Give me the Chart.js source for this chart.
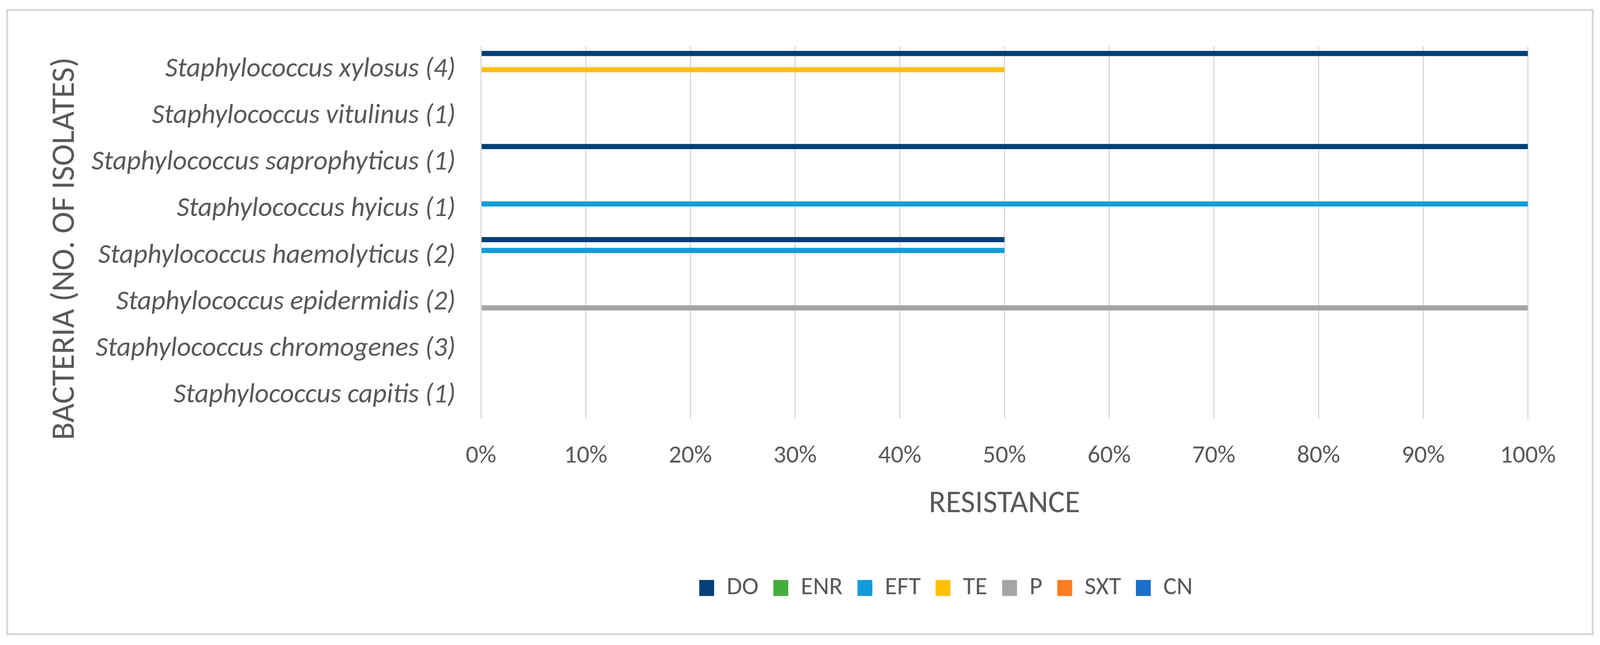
<!DOCTYPE html>
<html>
<head>
<meta charset="utf-8">
<script src="https://cdn.jsdelivr.net/npm/chart.js@4.4.1/dist/chart.umd.min.js"></script>
<style>
html,body{margin:0;padding:0;background:#ffffff;overflow:hidden;}
canvas{display:block;}
</style>
</head>
<body>
<canvas id="chart"></canvas>
<script>
// ---------- data ----------
const categories = [
  "Staphylococcus xylosus (4)",
  "Staphylococcus vitulinus (1)",
  "Staphylococcus saprophyticus (1)",
  "Staphylococcus hyicus (1)",
  "Staphylococcus haemolyticus (2)",
  "Staphylococcus epidermidis (2)",
  "Staphylococcus chromogenes (3)",
  "Staphylococcus capitis (1)"
];
const seriesNames = ["DO", "ENR", "EFT", "TE", "P", "SXT", "CN"];
const DO  = [100, 0, 100, 0, 50, 0, 0, 0];
const ENR = [0, 0, 0, 0, 0, 0, 0, 0];
const EFT = [0, 0, 0, 100, 50, 0, 0, 0];
const TE  = [50, 0, 0, 0, 0, 0, 0, 0];
const P   = [0, 0, 0, 0, 0, 100, 0, 0];
const SXT = [0, 0, 0, 0, 0, 0, 0, 0];
const CN  = [0, 0, 0, 0, 0, 0, 0, 0];
const tickValues = [0, 10, 20, 30, 40, 50, 60, 70, 80, 90, 100];
const tickLabels = ["0%", "10%", "20%", "30%", "40%", "50%", "60%", "70%", "80%", "90%", "100%"];
const xTitle = "RESISTANCE";
const yTitle = "BACTERIA (NO. OF ISOLATES)";

// ---------- style ----------
const seriesColors = ["#033F78", "#43AD3B", "#139CDA", "#FFC000", "#A5A5A5", "#FE7C22", "#1A6FCB"];
const FONT = "Carlito, Lato, sans-serif";
const TEXT = "#595959";
const GRID = "#D9D9D9";

const W = window.innerWidth || 4394;
const H = window.innerHeight || 1651;
const sx = W / 4394, sy = H / 1651;

const LABEL_SIZE = Math.round(68.5 * sx);
const CAT_SIZE = Math.round(75 * sx);
const TITLE_SIZE = Math.round(80 * Math.sqrt(sx * sy) / Math.sqrt(0.932));
const YTITLE_SIZE = Math.round(84 * sy);
const Y_AXIS_WIDTH = 1321 * sx;
const X_AXIS_HEIGHT = 363 * sy;
const LEGEND_CENTER_X = 2598 * sx;
const Y_TITLE_SHIFT = 41 * sy;

const canvas = document.getElementById('chart');
canvas.width = W;
canvas.height = H;

const seriesValues = [DO, ENR, EFT, TE, P, SXT, CN];

const layoutTweaks = {
  id: 'layoutTweaks',
  afterLayout(chart) {
    const lg = chart.legend;
    if (lg) {
      const d = LEGEND_CENTER_X - (lg.left + lg.right) / 2;
      lg.left += d;
      lg.right += d;
    }
    const ys = chart.scales.y;
    if (ys && !ys._titlePatched) {
      const orig = ys.drawTitle.bind(ys);
      ys.drawTitle = function () {
        const t = this.top, b = this.bottom;
        this.top = t + Y_TITLE_SHIFT;
        this.bottom = b + Y_TITLE_SHIFT;
        orig();
        this.top = t;
        this.bottom = b;
      };
      ys._titlePatched = true;
    }
  }
};

const outerBorder = {
  id: 'outerBorder',
  afterDraw(chart) {
    const ctx = chart.ctx;
    ctx.save();
    ctx.strokeStyle = GRID;
    ctx.lineWidth = 5;
    ctx.strokeRect(19.5 * sx, 25.5 * sy, chart.width - 39.5 * sx, chart.height - 53 * sy);
    ctx.restore();
  }
};

new Chart(canvas, {
  type: 'bar',
  data: {
    labels: categories,
    datasets: seriesNames.map((name, i) => ({
      label: name,
      data: seriesValues[i],
      backgroundColor: seriesColors[i],
      borderWidth: 0,
      categoryPercentage: 0.816,
      barPercentage: 0.945
    }))
  },
  options: {
    indexAxis: 'y',
    responsive: false,
    devicePixelRatio: 1,
    animation: false,
    layout: { padding: { top: 119 * sy, right: 198 * sx, left: 0, bottom: 104 * sy } },
    plugins: {
      tooltip: { enabled: false },
      legend: {
        position: 'bottom',
        labels: {
          boxWidth: Math.round(41 * sx),
          boxHeight: 41,
          padding: Math.round(41 * sx),
          color: TEXT,
          font: { family: FONT, size: LABEL_SIZE }
        }
      }
    },
    scales: {
      x: {
        min: 0,
        max: 100,
        afterFit(scale) { scale.height = X_AXIS_HEIGHT; },
        afterBuildTicks(scale) { scale.ticks = tickValues.map(v => ({ value: v })); },
        ticks: {
          padding: 58 * sy,
          color: TEXT,
          font: { family: FONT, size: LABEL_SIZE },
          maxRotation: 0,
          callback: (v) => tickLabels[tickValues.indexOf(v)]
        },
        grid: { color: GRID, lineWidth: 3, drawTicks: false },
        border: { display: false },
        title: {
          display: true,
          text: xTitle,
          color: TEXT,
          font: { family: FONT, size: TITLE_SIZE },
          padding: { top: 0, bottom: 96 * sy }
        }
      },
      y: {
        afterFit(scale) { scale.width = Y_AXIS_WIDTH; },
        ticks: {
          padding: 70 * sx,
          color: TEXT,
          font: { family: FONT, size: CAT_SIZE, style: 'italic' }
        },
        grid: { display: false, drawTicks: false },
        border: { display: false },
        title: {
          display: true,
          text: yTitle,
          color: TEXT,
          font: { family: FONT, size: YTITLE_SIZE },
          padding: { top: 180 * sx - YTITLE_SIZE * 0.6, bottom: 0 }
        }
      }
    }
  },
  plugins: [layoutTweaks, outerBorder]
});
</script>
</body>
</html>
